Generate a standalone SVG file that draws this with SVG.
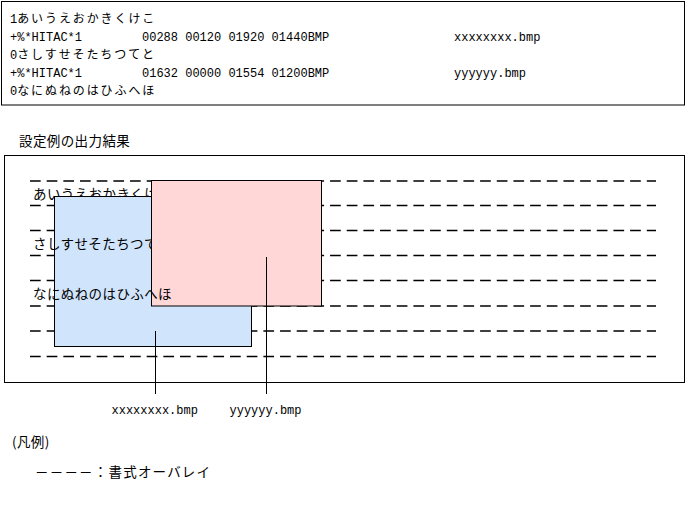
<svg xmlns="http://www.w3.org/2000/svg" width="688" height="505" viewBox="0 0 688 505">
<style>
.box{fill:#fff;stroke:#000;stroke-width:1}
.m{font-family:"Liberation Mono","DejaVu Sans Mono",monospace;font-size:12px;fill:#000}
.j{font-family:"Noto Sans CJK JP","Noto Sans",sans-serif;font-size:13.5px;letter-spacing:0.4px;fill:#000}
.js{font-family:"Noto Sans CJK JP","Noto Sans",sans-serif;font-size:12px;letter-spacing:1.9px;fill:#000}
.dash{stroke:#000;stroke-width:1.5;stroke-dasharray:10.7 5.97;fill:none}
.conn{stroke:#000;stroke-width:1;fill:none}
</style>
<rect width="688" height="505" fill="#fff"/>
<g id="setting-box">
  <rect class="box" x="1.5" y="1.5" width="683" height="103.5"/>
  <text x="10" y="22.5"><tspan class="m">1</tspan><tspan class="js">あいうえおかきくけこ</tspan></text>
  <text class="m" x="10" y="40.5">+%*HITAC*1</text>
  <text class="m" x="142" y="40.5">00288 00120 01920 01440BMP</text>
  <text class="m" x="454" y="40.5">xxxxxxxx.bmp</text>
  <text x="10" y="58.5"><tspan class="m">0</tspan><tspan class="js">さしすせそたちつてと</tspan></text>
  <text class="m" x="10" y="76.5">+%*HITAC*1</text>
  <text class="m" x="142" y="76.5">01632 00000 01554 01200BMP</text>
  <text class="m" x="454" y="76.5">yyyyyy.bmp</text>
  <text x="10" y="94.5"><tspan class="m">0</tspan><tspan class="js">なにぬねのはひふへほ</tspan></text>
</g>
<g id="title">
  <text class="j" x="19" y="145.5">設定例の出力結果</text>
</g>
<g id="result-box">
  <rect class="box" x="4.5" y="155.5" width="680" height="227"/>
  <g id="form-overlay">
    <line class="dash" x1="30" y1="181" x2="656" y2="181"/>
    <line class="dash" x1="30" y1="205.5" x2="656" y2="205.5"/>
    <line class="dash" x1="30" y1="230.5" x2="656" y2="230.5"/>
    <line class="dash" x1="30" y1="255.5" x2="656" y2="255.5"/>
    <line class="dash" x1="30" y1="280.5" x2="656" y2="280.5"/>
    <line class="dash" x1="30" y1="306" x2="656" y2="306"/>
    <line class="dash" x1="30" y1="331" x2="656" y2="331"/>
    <line class="dash" x1="30" y1="356.5" x2="656" y2="356.5"/>
  </g>
  <text class="j" x="33" y="198.5">あいうえおかきくけこ</text>
</g>
<g id="bmp-x">
  <rect x="54.5" y="196.5" width="197" height="150" fill="#D0E4FC" stroke="#000" stroke-width="1"/>
</g>
<g id="row2">
  <text class="j" x="33" y="248.5">さしすせそたちつてと</text>
</g>
<g id="bmp-y">
  <rect x="151.5" y="180.5" width="170" height="125.5" fill="#FFD7D7" stroke="#000" stroke-width="1"/>
</g>
<g id="row3">
  <text class="j" x="33" y="298.5">なにぬねのはひふへほ</text>
</g>
<g id="connectors">
  <line class="conn" x1="155.5" y1="331" x2="155.5" y2="394"/>
  <line class="conn" x1="266.5" y1="257" x2="266.5" y2="394"/>
</g>
<g id="label-x">
  <text class="m" x="111.5" y="414">xxxxxxxx.bmp</text>
</g>
<g id="label-y">
  <text class="m" x="229.5" y="414">yyyyyy.bmp</text>
</g>
<g id="legend">
  <text class="j" x="12" y="446.5">(凡例)</text>
  <text class="j" x="35" y="476.5" style="letter-spacing:1.2px">－－－－：書式オーバレイ</text>
</g>
</svg>
